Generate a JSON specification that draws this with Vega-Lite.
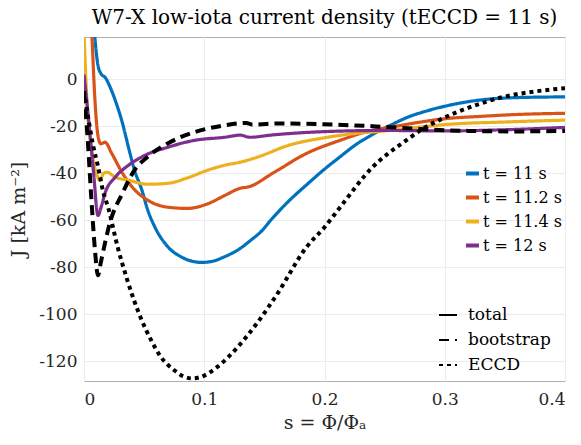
{
  "$schema": "https://vega.github.io/schema/vega-lite/v6.json",
  "width": 481,
  "height": 344,
  "autosize": {"type": "none"},
  "padding": {"left": 84, "top": 37, "right": 16, "bottom": 64},
  "background": "white",
  "title": {
    "text": "W7-X low-iota current density (tECCD = 11 s)",
    "font": "DejaVu Serif",
    "fontSize": 20,
    "fontWeight": "normal",
    "color": "#000000",
    "anchor": "middle",
    "offset": 9
  },
  "config": {
    "view": {"stroke": "#b0b0b0", "strokeWidth": 1},
    "axis": {
      "labelFont": "DejaVu Serif",
      "labelFontSize": 17,
      "labelColor": "#262626",
      "titleFont": "DejaVu Serif",
      "titleFontSize": 19,
      "titleFontWeight": "normal",
      "titleColor": "#262626",
      "grid": true,
      "gridColor": "#ececec",
      "gridWidth": 1,
      "domain": false,
      "ticks": false
    }
  },
  "datasets": {
    "totals": [
      {"s": 0, "J": 100, "t": "t = 11 s"},
      {"s": 0.005, "J": 50, "t": "t = 11 s"},
      {"s": 0.009, "J": 18, "t": "t = 11 s"},
      {"s": 0.0116, "J": 6, "t": "t = 11 s"},
      {"s": 0.014, "J": 2.5, "t": "t = 11 s"},
      {"s": 0.018, "J": 0.5, "t": "t = 11 s"},
      {"s": 0.021, "J": -2.5, "t": "t = 11 s"},
      {"s": 0.026, "J": -9, "t": "t = 11 s"},
      {"s": 0.032, "J": -18.7, "t": "t = 11 s"},
      {"s": 0.037, "J": -29, "t": "t = 11 s"},
      {"s": 0.042, "J": -38.7, "t": "t = 11 s"},
      {"s": 0.048, "J": -47, "t": "t = 11 s"},
      {"s": 0.053, "J": -55.7, "t": "t = 11 s"},
      {"s": 0.059, "J": -63, "t": "t = 11 s"},
      {"s": 0.07, "J": -71.5, "t": "t = 11 s"},
      {"s": 0.081, "J": -75.7, "t": "t = 11 s"},
      {"s": 0.09, "J": -77.5, "t": "t = 11 s"},
      {"s": 0.098, "J": -78, "t": "t = 11 s"},
      {"s": 0.107, "J": -77.5, "t": "t = 11 s"},
      {"s": 0.115, "J": -76, "t": "t = 11 s"},
      {"s": 0.13, "J": -72, "t": "t = 11 s"},
      {"s": 0.14, "J": -68, "t": "t = 11 s"},
      {"s": 0.146, "J": -65.5, "t": "t = 11 s"},
      {"s": 0.157, "J": -59, "t": "t = 11 s"},
      {"s": 0.171, "J": -51.5, "t": "t = 11 s"},
      {"s": 0.185, "J": -45, "t": "t = 11 s"},
      {"s": 0.199, "J": -38.7, "t": "t = 11 s"},
      {"s": 0.213, "J": -33, "t": "t = 11 s"},
      {"s": 0.227, "J": -27.5, "t": "t = 11 s"},
      {"s": 0.24, "J": -23.5, "t": "t = 11 s"},
      {"s": 0.254, "J": -19.8, "t": "t = 11 s"},
      {"s": 0.27, "J": -16, "t": "t = 11 s"},
      {"s": 0.285, "J": -13.5, "t": "t = 11 s"},
      {"s": 0.3, "J": -11.5, "t": "t = 11 s"},
      {"s": 0.32, "J": -9.5, "t": "t = 11 s"},
      {"s": 0.34, "J": -8.3, "t": "t = 11 s"},
      {"s": 0.36, "J": -7.8, "t": "t = 11 s"},
      {"s": 0.38, "J": -7.6, "t": "t = 11 s"},
      {"s": 0.4, "J": -7.5, "t": "t = 11 s"},

      {"s": 0, "J": 80, "t": "t = 11.2 s"},
      {"s": 0.004, "J": 40, "t": "t = 11.2 s"},
      {"s": 0.0066, "J": 18, "t": "t = 11.2 s"},
      {"s": 0.009, "J": -8, "t": "t = 11.2 s"},
      {"s": 0.0116, "J": -24, "t": "t = 11.2 s"},
      {"s": 0.014, "J": -27.5, "t": "t = 11.2 s"},
      {"s": 0.0175, "J": -26.8, "t": "t = 11.2 s"},
      {"s": 0.023, "J": -31.5, "t": "t = 11.2 s"},
      {"s": 0.032, "J": -40, "t": "t = 11.2 s"},
      {"s": 0.042, "J": -47, "t": "t = 11.2 s"},
      {"s": 0.053, "J": -51.5, "t": "t = 11.2 s"},
      {"s": 0.07, "J": -54.5, "t": "t = 11.2 s"},
      {"s": 0.086, "J": -55, "t": "t = 11.2 s"},
      {"s": 0.103, "J": -53, "t": "t = 11.2 s"},
      {"s": 0.117, "J": -49.5, "t": "t = 11.2 s"},
      {"s": 0.13, "J": -46.4, "t": "t = 11.2 s"},
      {"s": 0.137, "J": -45.8, "t": "t = 11.2 s"},
      {"s": 0.157, "J": -40, "t": "t = 11.2 s"},
      {"s": 0.185, "J": -31.6, "t": "t = 11.2 s"},
      {"s": 0.213, "J": -26, "t": "t = 11.2 s"},
      {"s": 0.24, "J": -21.7, "t": "t = 11.2 s"},
      {"s": 0.254, "J": -20.5, "t": "t = 11.2 s"},
      {"s": 0.279, "J": -18.3, "t": "t = 11.2 s"},
      {"s": 0.3, "J": -16.8, "t": "t = 11.2 s"},
      {"s": 0.33, "J": -15.8, "t": "t = 11.2 s"},
      {"s": 0.36, "J": -15, "t": "t = 11.2 s"},
      {"s": 0.4, "J": -14.5, "t": "t = 11.2 s"},

      {"s": 0, "J": 20, "t": "t = 11.4 s"},
      {"s": 0.0025, "J": -10, "t": "t = 11.4 s"},
      {"s": 0.0066, "J": -31, "t": "t = 11.4 s"},
      {"s": 0.011, "J": -41, "t": "t = 11.4 s"},
      {"s": 0.013, "J": -43, "t": "t = 11.4 s"},
      {"s": 0.0165, "J": -40, "t": "t = 11.4 s"},
      {"s": 0.019, "J": -39.6, "t": "t = 11.4 s"},
      {"s": 0.026, "J": -41.7, "t": "t = 11.4 s"},
      {"s": 0.037, "J": -43, "t": "t = 11.4 s"},
      {"s": 0.053, "J": -44.7, "t": "t = 11.4 s"},
      {"s": 0.07, "J": -44.3, "t": "t = 11.4 s"},
      {"s": 0.086, "J": -42, "t": "t = 11.4 s"},
      {"s": 0.103, "J": -38.7, "t": "t = 11.4 s"},
      {"s": 0.117, "J": -36.6, "t": "t = 11.4 s"},
      {"s": 0.13, "J": -35.3, "t": "t = 11.4 s"},
      {"s": 0.144, "J": -33.2, "t": "t = 11.4 s"},
      {"s": 0.171, "J": -28, "t": "t = 11.4 s"},
      {"s": 0.199, "J": -25, "t": "t = 11.4 s"},
      {"s": 0.227, "J": -23, "t": "t = 11.4 s"},
      {"s": 0.25, "J": -22, "t": "t = 11.4 s"},
      {"s": 0.279, "J": -20.4, "t": "t = 11.4 s"},
      {"s": 0.3, "J": -19.3, "t": "t = 11.4 s"},
      {"s": 0.35, "J": -18.2, "t": "t = 11.4 s"},
      {"s": 0.4, "J": -17.4, "t": "t = 11.4 s"},

      {"s": 0, "J": 2, "t": "t = 12 s"},
      {"s": 0.004, "J": -18, "t": "t = 12 s"},
      {"s": 0.008, "J": -40, "t": "t = 12 s"},
      {"s": 0.0116, "J": -58, "t": "t = 12 s"},
      {"s": 0.0145, "J": -54, "t": "t = 12 s"},
      {"s": 0.0175, "J": -48.5, "t": "t = 12 s"},
      {"s": 0.026, "J": -41.7, "t": "t = 12 s"},
      {"s": 0.037, "J": -36.6, "t": "t = 12 s"},
      {"s": 0.051, "J": -32.3, "t": "t = 12 s"},
      {"s": 0.07, "J": -28.9, "t": "t = 12 s"},
      {"s": 0.092, "J": -26, "t": "t = 12 s"},
      {"s": 0.117, "J": -24.7, "t": "t = 12 s"},
      {"s": 0.13, "J": -23.8, "t": "t = 12 s"},
      {"s": 0.138, "J": -24.7, "t": "t = 12 s"},
      {"s": 0.155, "J": -23.8, "t": "t = 12 s"},
      {"s": 0.18, "J": -22.8, "t": "t = 12 s"},
      {"s": 0.2, "J": -22.3, "t": "t = 12 s"},
      {"s": 0.25, "J": -21.8, "t": "t = 12 s"},
      {"s": 0.3, "J": -22, "t": "t = 12 s"},
      {"s": 0.35, "J": -21.5, "t": "t = 12 s"},
      {"s": 0.4, "J": -20.5, "t": "t = 12 s"}
    ],
    "parts": [
      {"s": 0, "J": -6, "comp": "bootstrap"},
      {"s": 0.003, "J": -25, "comp": "bootstrap"},
      {"s": 0.006, "J": -50, "comp": "bootstrap"},
      {"s": 0.009, "J": -72, "comp": "bootstrap"},
      {"s": 0.0116, "J": -83.5, "comp": "bootstrap"},
      {"s": 0.014, "J": -78, "comp": "bootstrap"},
      {"s": 0.0165, "J": -72, "comp": "bootstrap"},
      {"s": 0.0216, "J": -61, "comp": "bootstrap"},
      {"s": 0.032, "J": -48.5, "comp": "bootstrap"},
      {"s": 0.042, "J": -38.7, "comp": "bootstrap"},
      {"s": 0.053, "J": -33, "comp": "bootstrap"},
      {"s": 0.07, "J": -27.2, "comp": "bootstrap"},
      {"s": 0.092, "J": -22.5, "comp": "bootstrap"},
      {"s": 0.117, "J": -19.6, "comp": "bootstrap"},
      {"s": 0.135, "J": -18.6, "comp": "bootstrap"},
      {"s": 0.14, "J": -19.3, "comp": "bootstrap"},
      {"s": 0.163, "J": -18.8, "comp": "bootstrap"},
      {"s": 0.2, "J": -19.2, "comp": "bootstrap"},
      {"s": 0.24, "J": -20, "comp": "bootstrap"},
      {"s": 0.28, "J": -21.2, "comp": "bootstrap"},
      {"s": 0.32, "J": -22, "comp": "bootstrap"},
      {"s": 0.36, "J": -22.2, "comp": "bootstrap"},
      {"s": 0.4, "J": -22, "comp": "bootstrap"},

      {"s": 0, "J": -5, "comp": "ECCD"},
      {"s": 0.004, "J": -18, "comp": "ECCD"},
      {"s": 0.0075, "J": -28, "comp": "ECCD"},
      {"s": 0.0116, "J": -37, "comp": "ECCD"},
      {"s": 0.016, "J": -48, "comp": "ECCD"},
      {"s": 0.02, "J": -54.5, "comp": "ECCD"},
      {"s": 0.028, "J": -71.5, "comp": "ECCD"},
      {"s": 0.036, "J": -85.5, "comp": "ECCD"},
      {"s": 0.0415, "J": -94, "comp": "ECCD"},
      {"s": 0.048, "J": -102.6, "comp": "ECCD"},
      {"s": 0.0557, "J": -111, "comp": "ECCD"},
      {"s": 0.064, "J": -118.3, "comp": "ECCD"},
      {"s": 0.0748, "J": -123.8, "comp": "ECCD"},
      {"s": 0.0825, "J": -126.5, "comp": "ECCD"},
      {"s": 0.0898, "J": -127.4, "comp": "ECCD"},
      {"s": 0.097, "J": -126.8, "comp": "ECCD"},
      {"s": 0.1106, "J": -122.6, "comp": "ECCD"},
      {"s": 0.127, "J": -114.5, "comp": "ECCD"},
      {"s": 0.144, "J": -103.8, "comp": "ECCD"},
      {"s": 0.16, "J": -92, "comp": "ECCD"},
      {"s": 0.185, "J": -71.5, "comp": "ECCD"},
      {"s": 0.2, "J": -63, "comp": "ECCD"},
      {"s": 0.213, "J": -54.5, "comp": "ECCD"},
      {"s": 0.24, "J": -37.4, "comp": "ECCD"},
      {"s": 0.252, "J": -32, "comp": "ECCD"},
      {"s": 0.268, "J": -26, "comp": "ECCD"},
      {"s": 0.279, "J": -22, "comp": "ECCD"},
      {"s": 0.299, "J": -16.5, "comp": "ECCD"},
      {"s": 0.321, "J": -11.9, "comp": "ECCD"},
      {"s": 0.348, "J": -7.6, "comp": "ECCD"},
      {"s": 0.375, "J": -5.2, "comp": "ECCD"},
      {"s": 0.4, "J": -3.8, "comp": "ECCD"}
    ]
  },
  "encoding": {
    "x": {
      "field": "s",
      "type": "quantitative",
      "scale": {"domain": [0, 0.4], "nice": false, "zero": false},
      "axis": {
        "title": "s = Φ/Φₐ",
        "values": [0, 0.1, 0.2, 0.3, 0.4],
        "labelExpr": "datum.value == 0 ? '0' : format(datum.value, '.1f')",
        "labelPadding": 10,
        "titlePadding": 6
      }
    },
    "y": {
      "field": "J",
      "type": "quantitative",
      "scale": {"domain": [-128.5, 18], "nice": false, "zero": false},
      "axis": {
        "title": "J [kA m⁻²]",
        "values": [-120, -100, -80, -60, -40, -20, 0],
        "labelExpr": "'' + datum.value",
        "labelPadding": 7,
        "titlePadding": 10
      }
    }
  },
  "layer": [
    {
      "data": {"name": "totals"},
      "mark": {"type": "line", "clip": true, "strokeWidth": 3.2, "interpolate": "monotone"},
      "encoding": {
        "color": {
          "field": "t",
          "type": "nominal",
          "scale": {
            "domain": ["t = 11 s", "t = 11.2 s", "t = 11.4 s", "t = 12 s"],
            "range": ["#0072BD", "#D95319", "#EDB120", "#7E2F8E"]
          },
          "legend": {
            "title": null,
            "orient": "none",
            "legendX": 380,
            "legendY": 128,
            "symbolType": "stroke",
            "symbolSize": 169,
            "symbolStrokeWidth": 4,
            "symbolDash": [1, 0],
            "labelFont": "DejaVu Serif",
            "labelFontSize": 16,
            "labelColor": "#000000",
            "labelOffset": 2,
            "rowPadding": 7
          }
        },
        "strokeDash": {"value": [1, 0]}
      }
    },
    {
      "data": {"name": "parts"},
      "mark": {"type": "line", "clip": true, "strokeWidth": 4, "color": "black", "interpolate": "monotone"},
      "encoding": {
        "strokeDash": {
          "field": "comp",
          "type": "nominal",
          "scale": {
            "domain": ["total", "bootstrap", "ECCD"],
            "range": [[1, 0], [10, 6], [4, 4]]
          },
          "legend": {
            "title": null,
            "orient": "none",
            "legendX": 354,
            "legendY": 268,
            "symbolType": "stroke",
            "symbolSize": 324,
            "symbolStrokeWidth": 2,
            "symbolStrokeColor": "black",
            "labelFont": "DejaVu Serif",
            "labelFontSize": 17,
            "labelColor": "#000000",
            "labelOffset": 10,
            "rowPadding": 7
          }
        }
      }
    }
  ]
}
